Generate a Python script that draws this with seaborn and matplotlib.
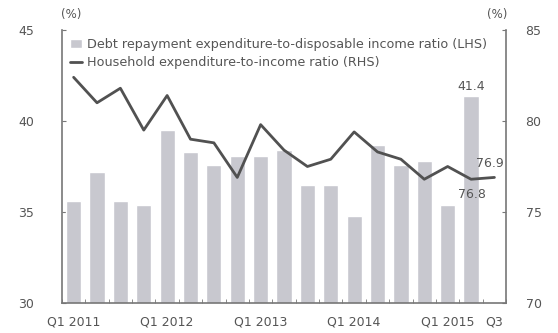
import matplotlib
matplotlib.use("Agg")
import matplotlib.pyplot as plt
import seaborn as sns
import pandas as pd
import numpy as np

quarters = [f"Q{q} {y}" for y in range(2011, 2016) for q in range(1, 5)][:19]
debt_ratio = [35.6, 37.2, 35.6, 35.4, 39.5, 38.3, 37.6, 38.1, 38.1, 38.4,
              36.5, 36.5, 34.8, 38.7, 37.6, 37.8, 35.4, 41.4]
expense_ratio = [82.4, 81.0, 81.8, 79.5, 81.4, 79.0, 78.8, 76.9, 79.8, 78.4,
                 77.5, 77.9, 79.4, 78.3, 77.9, 76.8, 77.5, 76.8, 76.9]
tick_labels = {0: "Q1 2011", 4: "Q1 2012", 8: "Q1 2013", 12: "Q1 2014",
               16: "Q1 2015", 18: "Q3"}

sns.set_style("white")
plt.rcParams["font.family"] = ["DejaVu Sans"]

grey_text = "#555555"
spine_col = "#777777"
bar_col = "#c8c8cf"
line_col = "#515151"

fig = plt.figure(figsize=(5.58, 3.33), dpi=100)
ax = fig.add_axes([0.111, 0.09, 0.796, 0.82])

bars = pd.DataFrame({"quarter": quarters[:len(debt_ratio)], "value": debt_ratio})
sns.barplot(data=bars, x="quarter", y="value", order=quarters, color=bar_col,
            saturation=1, width=0.65, errorbar=None, ax=ax,
            label="Debt repayment expenditure-to-disposable income ratio (LHS)")
ax.set_ylim(30, 45)
ax.set_xlim(-0.5, 18.5)
ax.set_yticks([30, 35, 40, 45])

ax2 = ax.twinx()
line = pd.DataFrame({"pos": np.arange(len(expense_ratio)), "value": expense_ratio})
sns.lineplot(data=line, x="pos", y="value", color=line_col, linewidth=2.0, ax=ax2,
             label="Household expenditure-to-income ratio (RHS)")
ax2.set_ylim(70, 85)
ax2.set_yticks([70, 75, 80, 85])
ax2.set_xlim(-0.5, 18.5)

for a in (ax, ax2):
    a.set_xlabel("")
    a.set_ylabel("")
    a.spines["top"].set_visible(False)
    for s in ("left", "right", "bottom"):
        a.spines[s].set_color(spine_col)
        a.spines[s].set_linewidth(1.2)

ax.spines["right"].set_visible(False)
ax2.spines["left"].set_visible(False)
ax2.spines["bottom"].set_visible(False)

ax.set_xticks(list(tick_labels.keys()))
ax.set_xticklabels(list(tick_labels.values()))
ax.set_xticks(np.arange(-0.5, 19, 1), minor=True)
ax.tick_params(axis="x", which="major", length=0, pad=9, labelsize=9, labelcolor=grey_text)
ax.tick_params(axis="x", which="minor", direction="in", length=3, color=spine_col, bottom=True)
ax.tick_params(axis="y", direction="in", length=3, pad=20, labelsize=9,
               labelcolor=grey_text, color=spine_col, left=True)
ax2.tick_params(axis="y", direction="in", length=3, pad=14, labelsize=9,
                labelcolor=grey_text, color=spine_col, right=True)

ax.text(-0.52, 45.5, "(%)", fontsize=8.5, color=grey_text, va="bottom", ha="left")
ax2.text(18.55, 85.5, "(%)", fontsize=8.5, color=grey_text, va="bottom", ha="right")

# value annotations
ax.text(17, debt_ratio[17] + 0.15, f"{debt_ratio[17]:.1f}", ha="center", va="bottom",
        fontsize=9, color=grey_text)
ax2.text(17.05, expense_ratio[17] - 0.5, f"{expense_ratio[17]:.1f}", ha="center", va="top",
         fontsize=9, color=grey_text)
ax2.text(17.8, expense_ratio[18] + 0.4, f"{expense_ratio[18]:.1f}", ha="center", va="bottom",
         fontsize=9, color=grey_text)

h1, l1 = ax.get_legend_handles_labels()
h2, l2 = ax2.get_legend_handles_labels()
if ax2.get_legend():
    ax2.get_legend().remove()
ax.legend(h1 + h2, l1 + l2, loc="upper left", bbox_to_anchor=(0.0, 1.0), frameon=False,
          fontsize=9.2, labelcolor=grey_text, handlelength=1.0, handletextpad=0.4,
          borderaxespad=0.2, labelspacing=0.45)

fig.savefig("out.png", dpi=100)
